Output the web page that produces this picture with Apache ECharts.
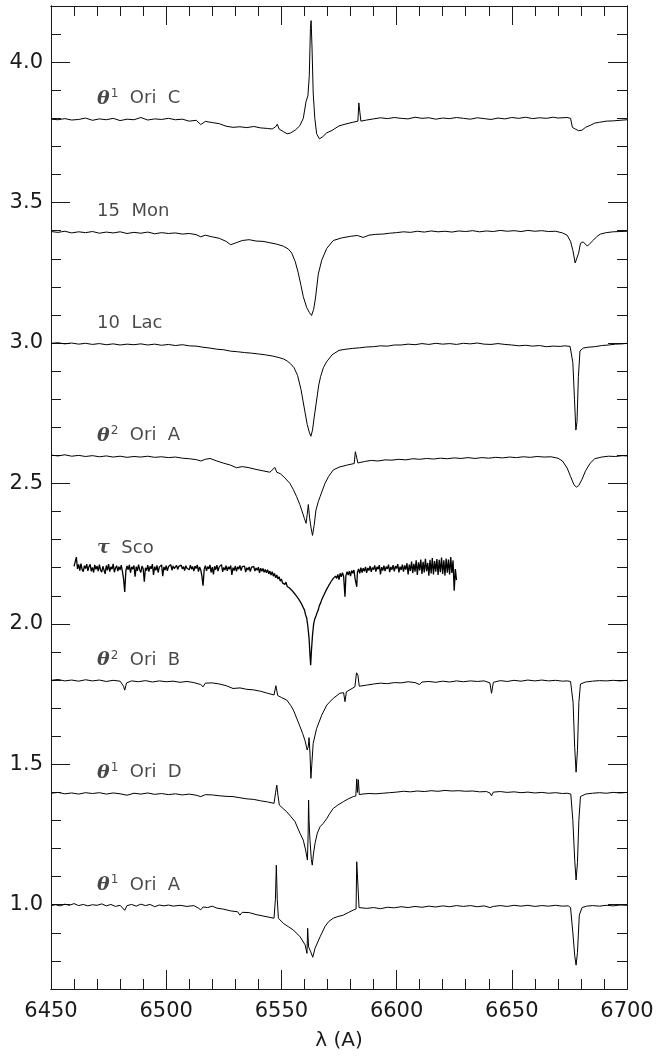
<!DOCTYPE html>
<html>
<head>
<meta charset="utf-8">
<script src="https://cdn.jsdelivr.net/npm/echarts@6/dist/echarts.min.js"></script>
<style>
  html, body { margin: 0; padding: 0; background: #fff; }
  #chart { width: 657px; height: 1057px; }
</style>
</head>
<body>
<div id="chart"></div>
<script>
// spectra, [wavelength (A), normalised flux + offset]
const oriC = [
  [6450, 3.797], [6453, 3.795], [6456, 3.799], [6459, 3.794], [6462, 3.796], [6465, 3.801], [6468, 3.793], [6471, 3.798],
  [6474, 3.795], [6477, 3.800], [6480, 3.792], [6483, 3.797], [6486, 3.795], [6489, 3.803], [6492, 3.794], [6495, 3.798],
  [6498, 3.796], [6501, 3.800], [6504, 3.795], [6507, 3.797], [6510, 3.790], [6513, 3.793], [6515, 3.778], [6517, 3.789],
  [6520, 3.785], [6523, 3.781], [6526, 3.772], [6529, 3.768], [6532, 3.770], [6535, 3.767], [6538, 3.771], [6541, 3.766],
  [6544, 3.764], [6546, 3.762], [6547.5, 3.770], [6548.2, 3.779], [6549, 3.762], [6551, 3.752], [6552.5, 3.745], [6554, 3.748],
  [6556, 3.758], [6558, 3.774], [6559.5, 3.800], [6560.7, 3.860], [6561.5, 3.880], [6562.1, 3.950], [6562.6, 4.120], [6562.9, 4.148],
  [6563.3, 4.050], [6563.8, 3.890], [6564.5, 3.800], [6565.3, 3.745], [6566.5, 3.727], [6568, 3.735], [6569.6, 3.748], [6572, 3.757],
  [6575, 3.773], [6578, 3.780], [6581, 3.786], [6583.2, 3.790], [6583.6, 3.855], [6584.0, 3.860], [6584.5, 3.790], [6587, 3.794],
  [6590, 3.798], [6593, 3.802], [6596, 3.799], [6599, 3.803], [6602, 3.800], [6605, 3.798], [6608, 3.804], [6611, 3.800],
  [6614, 3.802], [6617, 3.797], [6620, 3.801], [6623, 3.799], [6626, 3.803], [6629, 3.800], [6632, 3.797], [6635, 3.802],
  [6638, 3.799], [6641, 3.796], [6644, 3.801], [6647, 3.798], [6650, 3.803], [6653, 3.800], [6656, 3.804], [6659, 3.799],
  [6662, 3.802], [6665, 3.800], [6668, 3.804], [6670, 3.801], [6674, 3.803], [6675.5, 3.800], [6676.3, 3.768], [6677.5, 3.762],
  [6679, 3.756], [6680.5, 3.758], [6682, 3.768], [6684, 3.775], [6686, 3.783], [6688, 3.786], [6691, 3.790], [6694, 3.791],
  [6697, 3.793], [6700, 3.795]
];

const mon15 = [
  [6450, 3.397], [6453, 3.394], [6456, 3.398], [6459, 3.392], [6462, 3.396], [6465, 3.393], [6468, 3.397], [6471, 3.391],
  [6474, 3.395], [6477, 3.392], [6480, 3.396], [6483, 3.390], [6486, 3.394], [6489, 3.391], [6492, 3.395], [6495, 3.389],
  [6498, 3.393], [6501, 3.390], [6504, 3.392], [6507, 3.388], [6510, 3.390], [6513, 3.386], [6515, 3.378], [6517, 3.384],
  [6520, 3.378], [6523, 3.373], [6526, 3.362], [6528, 3.350], [6530, 3.356], [6533, 3.365], [6536, 3.368], [6539, 3.363],
  [6542, 3.362], [6545, 3.357], [6548, 3.352], [6550.8, 3.345], [6553, 3.335], [6554.5, 3.320], [6556, 3.290], [6557.3, 3.250],
  [6558.5, 3.205], [6559.5, 3.165], [6561, 3.126], [6562.2, 3.108], [6563.1, 3.098], [6564, 3.120], [6564.8, 3.160], [6566, 3.245],
  [6567.5, 3.295], [6569.7, 3.337], [6572.5, 3.365], [6576, 3.374], [6580, 3.380], [6583, 3.383], [6585.5, 3.376], [6588, 3.384],
  [6591, 3.387], [6594, 3.388], [6597, 3.391], [6600, 3.393], [6603, 3.396], [6606, 3.394], [6609, 3.398], [6612, 3.395],
  [6615, 3.399], [6618, 3.396], [6621, 3.398], [6624, 3.395], [6627, 3.399], [6630, 3.397], [6633, 3.400], [6636, 3.396],
  [6639, 3.399], [6642, 3.397], [6645, 3.401], [6648, 3.398], [6651, 3.400], [6654, 3.397], [6657, 3.401], [6660, 3.398],
  [6663, 3.400], [6666, 3.397], [6669, 3.398], [6672, 3.392], [6674, 3.384], [6675.5, 3.362], [6676.5, 3.330], [6677.5, 3.285],
  [6678.2, 3.280], [6679, 3.320], [6679.8, 3.355], [6681, 3.360], [6682.8, 3.345], [6684, 3.355], [6685.5, 3.367], [6687, 3.380],
  [6688.5, 3.388], [6691, 3.393], [6694, 3.396], [6697, 3.397], [6700, 3.398]
];

const lac10 = [
  [6450, 2.999], [6453, 3.001], [6456, 2.997], [6459, 3.000], [6462, 2.996], [6465, 2.999], [6468, 2.995], [6471, 2.998],
  [6474, 2.994], [6477, 2.997], [6480, 2.993], [6483, 2.996], [6486, 2.994], [6489, 2.997], [6492, 2.993], [6495, 2.996],
  [6498, 2.992], [6501, 2.995], [6504, 2.991], [6507, 2.994], [6510, 2.990], [6513, 2.989], [6516, 2.985], [6519, 2.982],
  [6522, 2.978], [6525, 2.976], [6528, 2.971], [6531, 2.969], [6534, 2.966], [6537, 2.964], [6540, 2.961], [6543, 2.958],
  [6546, 2.954], [6549, 2.948], [6551, 2.943], [6552.5, 2.936], [6554, 2.926], [6555.5, 2.912], [6557, 2.885], [6558.5, 2.835],
  [6560, 2.765], [6561.2, 2.710], [6562.2, 2.680], [6562.8, 2.668], [6563.5, 2.690], [6564.3, 2.740], [6565.3, 2.797], [6566.2, 2.850],
  [6567, 2.880], [6568.2, 2.912], [6569.6, 2.933], [6572, 2.958], [6575, 2.974], [6578, 2.978], [6581, 2.981], [6584, 2.983],
  [6587, 2.986], [6590, 2.987], [6593, 2.990], [6596, 2.989], [6599, 2.993], [6602, 2.993], [6605, 2.996], [6608, 2.994],
  [6611, 2.998], [6614, 2.995], [6617, 2.999], [6620, 2.996], [6623, 2.998], [6626, 2.995], [6629, 2.999], [6632, 2.997],
  [6635, 3.000], [6638, 2.996], [6641, 2.995], [6644, 2.998], [6647, 2.995], [6650, 2.993], [6653, 2.990], [6656, 2.992],
  [6659, 2.989], [6662, 2.991], [6665, 2.987], [6668, 2.989], [6671, 2.988], [6673, 2.990], [6675.3, 2.988], [6676.5, 2.930],
  [6677.2, 2.800], [6677.8, 2.690], [6678.3, 2.720], [6678.9, 2.880], [6679.6, 2.972], [6681, 2.982], [6683, 2.985], [6686, 2.987],
  [6689, 2.991], [6692, 2.993], [6695, 2.996], [6698, 2.997], [6700, 2.999]
];

const ori2A = [
  [6450, 2.601], [6453, 2.598], [6456, 2.602], [6459, 2.597], [6462, 2.600], [6465, 2.596], [6468, 2.599], [6471, 2.595],
  [6474, 2.598], [6477, 2.594], [6480, 2.597], [6483, 2.593], [6486, 2.596], [6489, 2.594], [6492, 2.597], [6495, 2.593],
  [6498, 2.595], [6501, 2.592], [6504, 2.594], [6507, 2.590], [6510, 2.588], [6513, 2.585], [6515, 2.580], [6517, 2.586],
  [6519, 2.589], [6522, 2.580], [6525, 2.572], [6528, 2.565], [6530.5, 2.556], [6533, 2.560], [6536, 2.556], [6539, 2.550],
  [6542, 2.545], [6545, 2.540], [6547.2, 2.557], [6548, 2.540], [6549.5, 2.535], [6551.5, 2.520], [6553.7, 2.500], [6555.2, 2.478],
  [6556.6, 2.453], [6558, 2.425], [6558.8, 2.405], [6560, 2.375], [6560.7, 2.358], [6561.2, 2.390], [6561.7, 2.425], [6562.2, 2.380],
  [6562.8, 2.345], [6563.5, 2.315], [6564.2, 2.350], [6565, 2.405], [6566, 2.435], [6566.8, 2.453], [6568, 2.480], [6568.9, 2.500],
  [6570.5, 2.525], [6572.5, 2.548], [6575, 2.558], [6578.3, 2.565], [6581.6, 2.571], [6582.1, 2.613], [6582.6, 2.611], [6583.2, 2.573],
  [6586, 2.578], [6589, 2.582], [6592, 2.580], [6595, 2.584], [6598, 2.583], [6601, 2.586], [6604, 2.584], [6607, 2.588],
  [6610, 2.586], [6613, 2.589], [6616, 2.587], [6619, 2.590], [6622, 2.588], [6625, 2.591], [6628, 2.589], [6631, 2.592],
  [6634, 2.589], [6637, 2.592], [6640, 2.590], [6643, 2.593], [6646, 2.591], [6649, 2.594], [6652, 2.592], [6655, 2.595],
  [6658, 2.593], [6661, 2.596], [6664, 2.594], [6667, 2.595], [6670, 2.590], [6672, 2.580], [6674, 2.555], [6675.5, 2.525],
  [6677, 2.495], [6678, 2.487], [6679, 2.492], [6680.5, 2.515], [6682, 2.545], [6684, 2.572], [6686, 2.588], [6689, 2.594],
  [6692, 2.597], [6695, 2.596], [6698, 2.599], [6700, 2.598]
];

const tauSco = [
  [6460, 2.205], [6460.5, 2.221], [6461, 2.238], [6461.5, 2.196], [6462, 2.212], [6462.5, 2.190], [6463, 2.215], [6463.5, 2.194],
  [6464, 2.186], [6464.5, 2.207], [6465, 2.197], [6465.5, 2.213], [6466, 2.189], [6466.5, 2.204], [6467, 2.212], [6467.5, 2.187],
  [6468, 2.201], [6468.5, 2.183], [6469, 2.210], [6469.5, 2.194], [6470, 2.206], [6470.5, 2.188], [6471, 2.211], [6471.5, 2.192],
  [6472, 2.184], [6472.5, 2.205], [6473, 2.198], [6473.5, 2.178], [6474, 2.208], [6474.5, 2.191], [6475, 2.213], [6475.5, 2.186],
  [6476, 2.203], [6476.5, 2.195], [6477, 2.214], [6477.5, 2.184], [6478, 2.199], [6478.5, 2.207], [6479, 2.188], [6479.5, 2.204],
  [6480, 2.192], [6480.5, 2.209], [6481, 2.186], [6481.5, 2.160], [6482, 2.114], [6482.5, 2.190], [6483, 2.206], [6483.5, 2.193],
  [6484, 2.210], [6484.5, 2.182], [6485, 2.203], [6485.5, 2.195], [6486, 2.208], [6486.5, 2.168], [6487, 2.204], [6487.5, 2.189],
  [6488, 2.211], [6488.5, 2.193], [6489, 2.183], [6489.5, 2.206], [6490, 2.197], [6490.5, 2.150], [6491, 2.200], [6491.5, 2.190],
  [6492, 2.209], [6492.5, 2.186], [6493, 2.205], [6493.5, 2.196], [6494, 2.213], [6494.5, 2.174], [6495, 2.204], [6495.5, 2.191],
  [6496, 2.208], [6496.5, 2.183], [6497, 2.202], [6497.5, 2.196], [6498, 2.210], [6498.5, 2.170], [6499, 2.203], [6499.5, 2.192],
  [6500, 2.207], [6500.5, 2.189], [6501, 2.204], [6501.5, 2.198], [6502, 2.211], [6502.5, 2.191], [6503, 2.206], [6503.5, 2.197],
  [6504, 2.203], [6504.5, 2.208], [6505, 2.194], [6505.5, 2.205], [6506, 2.199], [6506.5, 2.209], [6507, 2.196], [6507.5, 2.204],
  [6508, 2.190], [6508.5, 2.207], [6509, 2.198], [6509.5, 2.203], [6510, 2.193], [6510.5, 2.209], [6511, 2.195], [6511.5, 2.204],
  [6512, 2.188], [6512.5, 2.206], [6513, 2.197], [6513.5, 2.210], [6514, 2.186], [6514.5, 2.203], [6515, 2.192], [6515.5, 2.170],
  [6516, 2.136], [6516.5, 2.195], [6517, 2.207], [6517.5, 2.189], [6518, 2.204], [6518.5, 2.196], [6519, 2.210], [6519.5, 2.183],
  [6520, 2.202], [6520.5, 2.176], [6521, 2.205], [6521.5, 2.193], [6522, 2.209], [6522.5, 2.188], [6523, 2.203], [6523.5, 2.196],
  [6524, 2.211], [6524.5, 2.185], [6525, 2.201], [6525.5, 2.192], [6526, 2.207], [6526.5, 2.189], [6527, 2.203], [6527.5, 2.195],
  [6528, 2.208], [6528.5, 2.174], [6529, 2.200], [6529.5, 2.190], [6530, 2.206], [6530.5, 2.187], [6531, 2.203], [6531.5, 2.195],
  [6532, 2.208], [6532.5, 2.190], [6533, 2.204], [6533.5, 2.197], [6534, 2.206], [6534.5, 2.184], [6535, 2.200], [6535.5, 2.192],
  [6536, 2.203], [6536.5, 2.186], [6537, 2.201], [6537.5, 2.194], [6538, 2.205], [6538.5, 2.188], [6539, 2.199], [6539.5, 2.191],
  [6540, 2.202], [6540.5, 2.182], [6541, 2.198], [6541.5, 2.187], [6542, 2.197], [6542.5, 2.184], [6543, 2.194], [6543.5, 2.182],
  [6544, 2.193], [6544.5, 2.178], [6545, 2.188], [6545.5, 2.174], [6546, 2.186], [6546.5, 2.170], [6547, 2.180], [6547.5, 2.164],
  [6548, 2.174], [6548.5, 2.160], [6549, 2.168], [6549.5, 2.152], [6550, 2.160], [6550.5, 2.146], [6551, 2.153], [6551.5, 2.140],
  [6552, 2.149], [6552.5, 2.133], [6553, 2.140], [6553.5, 2.128], [6554, 2.134], [6554.5, 2.120], [6555, 2.124], [6555.5, 2.110],
  [6556, 2.114], [6556.5, 2.100], [6557, 2.102], [6557.5, 2.088], [6558, 2.090], [6558.5, 2.075], [6559, 2.072], [6559.5, 2.058],
  [6560, 2.050], [6560.5, 2.032], [6561, 2.020], [6561.5, 1.990], [6562, 1.950], [6562.4, 1.890], [6562.7, 1.853], [6563, 1.900],
  [6563.5, 1.960], [6564, 2.000], [6564.5, 2.018], [6565, 2.028], [6565.5, 2.040], [6566, 2.050], [6566.5, 2.066], [6567, 2.074],
  [6567.5, 2.086], [6568, 2.091], [6568.5, 2.104], [6569, 2.108], [6569.5, 2.121], [6570, 2.120], [6570.5, 2.136], [6571, 2.138],
  [6571.5, 2.150], [6572, 2.146], [6572.5, 2.162], [6573, 2.156], [6573.5, 2.170], [6574, 2.162], [6574.5, 2.176], [6575, 2.158],
  [6575.5, 2.180], [6576, 2.168], [6576.5, 2.182], [6577, 2.170], [6577.6, 2.097], [6578, 2.172], [6578.5, 2.186], [6579, 2.174],
  [6579.5, 2.188], [6580, 2.170], [6580.5, 2.190], [6581, 2.180], [6581.5, 2.192], [6582, 2.160], [6582.7, 2.132], [6583, 2.184],
  [6583.5, 2.196], [6584, 2.180], [6584.5, 2.200], [6585, 2.183], [6585.5, 2.198], [6586, 2.187], [6586.5, 2.203], [6587, 2.182],
  [6587.5, 2.199], [6588, 2.190], [6588.5, 2.206], [6589, 2.185], [6589.5, 2.201], [6590, 2.193], [6590.5, 2.208], [6591, 2.186],
  [6591.5, 2.203], [6592, 2.195], [6592.5, 2.209], [6593, 2.176], [6593.5, 2.202], [6594, 2.190], [6594.5, 2.207], [6595, 2.188],
  [6595.5, 2.204], [6596, 2.196], [6596.5, 2.211], [6597, 2.184], [6597.5, 2.203], [6598, 2.193], [6598.5, 2.209], [6599, 2.187],
  [6599.5, 2.206], [6600, 2.197], [6600.5, 2.213], [6601, 2.183], [6601.5, 2.204], [6602, 2.192], [6602.5, 2.211], [6603, 2.186],
  [6603.5, 2.208], [6604, 2.193], [6604.5, 2.216], [6605, 2.176], [6605.5, 2.211], [6606, 2.189], [6606.5, 2.222], [6607, 2.181],
  [6607.5, 2.214], [6608, 2.186], [6608.5, 2.226], [6609, 2.174], [6609.5, 2.219], [6610, 2.190], [6610.5, 2.229], [6611, 2.178],
  [6611.5, 2.221], [6612, 2.183], [6612.5, 2.232], [6613, 2.188], [6613.5, 2.217], [6614, 2.172], [6614.5, 2.228], [6615, 2.180],
  [6615.5, 2.234], [6616, 2.176], [6616.5, 2.224], [6617, 2.186], [6617.5, 2.231], [6618, 2.174], [6618.5, 2.228], [6619, 2.184],
  [6619.5, 2.236], [6620, 2.178], [6620.5, 2.226], [6621, 2.172], [6621.5, 2.233], [6622, 2.182], [6622.5, 2.229], [6623, 2.176],
  [6623.5, 2.238], [6624, 2.181], [6624.5, 2.226], [6625, 2.118], [6625.5, 2.195], [6626, 2.156]
];

const ori2B = [
  [6450, 1.799], [6453, 1.802], [6456, 1.797], [6459, 1.800], [6462, 1.796], [6465, 1.801], [6468, 1.797], [6471, 1.800],
  [6474, 1.795], [6477, 1.799], [6480, 1.796], [6481.5, 1.778], [6482, 1.764], [6482.8, 1.790], [6485, 1.797], [6488, 1.794],
  [6491, 1.798], [6494, 1.793], [6497, 1.797], [6500, 1.794], [6503, 1.796], [6506, 1.792], [6509, 1.795], [6512, 1.791],
  [6515, 1.784], [6516, 1.776], [6517, 1.789], [6520, 1.790], [6523, 1.786], [6526, 1.780], [6529, 1.770], [6532, 1.772],
  [6535, 1.767], [6538, 1.765], [6541, 1.760], [6544, 1.753], [6546.8, 1.747], [6547.6, 1.780], [6548.4, 1.745], [6550, 1.738],
  [6552.3, 1.729], [6554, 1.710], [6555.2, 1.693], [6556.6, 1.665], [6558.1, 1.634], [6559.2, 1.610], [6560.2, 1.586], [6561.2, 1.551],
  [6561.7, 1.565], [6562, 1.595], [6562.4, 1.540], [6562.8, 1.450], [6563.2, 1.500], [6563.8, 1.575], [6565.3, 1.628], [6567.5, 1.675],
  [6569.7, 1.711], [6572.5, 1.735], [6575.4, 1.753], [6577, 1.755], [6577.6, 1.723], [6578.2, 1.758], [6579, 1.764], [6581.9, 1.776],
  [6582.6, 1.826], [6583.2, 1.818], [6583.8, 1.778], [6587, 1.782], [6590, 1.786], [6593, 1.789], [6596, 1.787], [6599, 1.791],
  [6602, 1.790], [6605, 1.794], [6608, 1.791], [6610, 1.784], [6611, 1.793], [6614, 1.795], [6617, 1.792], [6620, 1.796],
  [6623, 1.793], [6626, 1.797], [6629, 1.794], [6632, 1.797], [6635, 1.795], [6638, 1.797], [6640.5, 1.790], [6641.2, 1.753],
  [6642, 1.792], [6645, 1.798], [6648, 1.795], [6651, 1.799], [6654, 1.796], [6657, 1.800], [6660, 1.797], [6663, 1.800],
  [6666, 1.797], [6669, 1.799], [6672, 1.796], [6674, 1.797], [6675.5, 1.795], [6676.6, 1.720], [6677.3, 1.560], [6677.9, 1.472],
  [6678.5, 1.550], [6679.1, 1.720], [6679.8, 1.786], [6682, 1.793], [6685, 1.796], [6688, 1.798], [6691, 1.797], [6694, 1.799],
  [6697, 1.797], [6700, 1.799]
];

const ori1D = [
  [6450, 1.397], [6453, 1.400], [6456, 1.395], [6459, 1.398], [6462, 1.394], [6465, 1.399], [6468, 1.396], [6471, 1.399],
  [6474, 1.394], [6477, 1.398], [6480, 1.395], [6483, 1.390], [6486, 1.397], [6489, 1.394], [6492, 1.398], [6495, 1.393],
  [6498, 1.396], [6501, 1.392], [6504, 1.395], [6507, 1.391], [6510, 1.394], [6513, 1.390], [6515, 1.385], [6517, 1.392],
  [6520, 1.391], [6523, 1.388], [6526, 1.386], [6529, 1.385], [6532, 1.381], [6535, 1.377], [6538, 1.375], [6541, 1.370],
  [6544, 1.366], [6546.8, 1.361], [6547.5, 1.400], [6548, 1.426], [6548.5, 1.390], [6549.1, 1.355], [6550.8, 1.342], [6552.3, 1.331],
  [6554, 1.315], [6555.9, 1.296], [6558.1, 1.254], [6559.5, 1.230], [6560.5, 1.195], [6561.3, 1.159], [6561.6, 1.250], [6561.8, 1.373],
  [6562.0, 1.300], [6562.4, 1.230], [6563, 1.160], [6563.4, 1.141], [6563.9, 1.180], [6564.6, 1.219], [6565.6, 1.255], [6566.8, 1.278],
  [6568.2, 1.290], [6569.7, 1.307], [6571, 1.325], [6572.5, 1.343], [6574.5, 1.355], [6576.9, 1.367], [6579, 1.377], [6581.2, 1.385],
  [6582.3, 1.387], [6582.7, 1.448], [6583.0, 1.400], [6583.4, 1.445], [6583.8, 1.392], [6585, 1.394], [6588, 1.396], [6591, 1.395],
  [6594, 1.397], [6597, 1.399], [6600, 1.401], [6603, 1.404], [6606, 1.402], [6609, 1.405], [6612, 1.403], [6615, 1.406],
  [6618, 1.404], [6621, 1.407], [6624, 1.405], [6627, 1.406], [6630, 1.404], [6633, 1.405], [6636, 1.402], [6639, 1.403],
  [6640.5, 1.398], [6641.2, 1.388], [6642, 1.401], [6645, 1.403], [6648, 1.400], [6651, 1.402], [6654, 1.399], [6657, 1.401],
  [6660, 1.398], [6663, 1.400], [6666, 1.397], [6669, 1.399], [6672, 1.396], [6674, 1.397], [6675.6, 1.394], [6676.5, 1.300],
  [6677.3, 1.160], [6677.9, 1.088], [6678.5, 1.150], [6679.1, 1.300], [6679.8, 1.385], [6682, 1.394], [6685, 1.397], [6688, 1.399],
  [6691, 1.397], [6694, 1.400], [6697, 1.398], [6700, 1.400]
];

const ori1A = [
  [6450, 0.997], [6452, 1.000], [6454, 0.996], [6456, 1.002], [6458, 0.998], [6460, 1.004], [6462, 0.997], [6464, 1.001],
  [6466, 0.996], [6468, 1.000], [6470, 0.998], [6472, 1.003], [6474, 0.996], [6476, 1.001], [6478, 0.994], [6480, 0.998],
  [6482, 0.980], [6483, 0.997], [6485, 1.001], [6487, 0.995], [6489, 1.002], [6491, 0.997], [6493, 1.001], [6495, 0.993],
  [6497, 0.999], [6499, 0.996], [6501, 0.999], [6503, 0.995], [6506, 0.998], [6509, 0.994], [6512, 0.997], [6514, 0.988],
  [6515, 0.982], [6516, 0.992], [6518, 0.990], [6520, 0.995], [6522, 0.988], [6525, 0.984], [6528, 0.978], [6531, 0.975],
  [6532, 0.963], [6533, 0.973], [6536, 0.972], [6539, 0.965], [6542, 0.960], [6545, 0.955], [6546.8, 0.952], [6547.4, 1.020],
  [6547.8, 1.141], [6548.2, 1.020], [6548.7, 0.952], [6550.8, 0.934], [6553, 0.922], [6555.2, 0.910], [6558.1, 0.886], [6560.3, 0.857],
  [6561.1, 0.827], [6561.4, 0.916], [6561.8, 0.850], [6562.6, 0.835], [6563.6, 0.813], [6564.6, 0.845], [6566.8, 0.886], [6568.9, 0.922],
  [6570.5, 0.940], [6572.5, 0.952], [6574.5, 0.958], [6576.9, 0.963], [6579, 0.972], [6581.2, 0.981], [6582.4, 0.985], [6582.7, 1.153],
  [6583.3, 1.155], [6583.7, 0.990], [6584.5, 0.984], [6587, 0.987], [6590, 0.990], [6593, 0.986], [6596, 0.991], [6599, 0.989],
  [6602, 0.993], [6605, 0.990], [6608, 0.994], [6611, 0.991], [6614, 0.995], [6617, 0.992], [6620, 0.996], [6623, 0.993],
  [6626, 0.997], [6629, 0.994], [6632, 0.997], [6635, 0.993], [6638, 0.996], [6640.5, 0.990], [6641.2, 0.983], [6642, 0.994],
  [6645, 0.997], [6648, 0.994], [6651, 0.998], [6654, 0.995], [6657, 0.998], [6660, 0.994], [6663, 0.997], [6666, 0.995],
  [6669, 0.998], [6672, 0.995], [6674.5, 0.996], [6675.5, 0.990], [6676.5, 0.900], [6677.3, 0.820], [6677.9, 0.785], [6678.5, 0.830],
  [6679.3, 0.963], [6680.5, 0.990], [6682.5, 0.995], [6685, 0.997], [6688, 0.995], [6691, 0.998], [6694, 0.996], [6697, 0.999],
  [6700, 0.998]
];

// star names and where their labels sit (data units)
const starNames = ['{g|θ}{s|1}  Ori  C', '15  Mon', '10  Lac', '{g|θ}{s|2}  Ori  A', '{g|τ}  Sco', '{g|θ}{s|2}  Ori  B', '{g|θ}{s|1}  Ori  D', '{g|θ}{s|1}  Ori  A'];
const labelX = [6470, 6470, 6470, 6470, 6470, 6470, 6470, 6470];
const labelY = [3.87, 3.47, 3.07, 2.67, 2.27, 1.87, 1.47, 1.07];
const spectra = [oriC, mon15, lac10, ori2A, tauSco, ori2B, ori1D, ori1A];

// tick values
const xMajor = [6450, 6500, 6550, 6600, 6650, 6700];
const xMinor = [6460, 6470, 6480, 6490, 6510, 6520, 6530, 6540, 6560, 6570, 6580, 6590,
  6610, 6620, 6630, 6640, 6660, 6670, 6680, 6690];
const yMajor = [1.0, 1.5, 2.0, 2.5, 3.0, 3.5, 4.0];
const yMinor = [0.8, 0.9, 1.1, 1.2, 1.3, 1.4, 1.6, 1.7, 1.8, 1.9, 2.1, 2.2, 2.3, 2.4, 2.6, 2.7, 2.8, 2.9,
  3.1, 3.2, 3.3, 3.4, 3.6, 3.7, 3.8, 3.9, 4.1];

const font = 'DejaVu Sans';
const ink = '#1a1a1a';

const chart = echarts.init(document.getElementById('chart'));

// one axis per side carries the long ticks (and labels), a twin carries the short ones
function axisDef(kind, pos, major, showLabel) {
  const isX = kind === 'x';
  const ticks = isX ? (major ? xMajor : xMinor) : (major ? yMajor : yMinor);
  return {
    type: 'value', position: pos,
    min: isX ? 6450 : 0.7, max: isX ? 6700 : 4.2,
    name: showLabel && isX ? 'λ (A)' : '', nameLocation: 'middle', nameGap: 42,
    nameTextStyle: { fontFamily: font, fontSize: 20, color: ink },
    axisLine: { show: true, onZero: false, lineStyle: { color: ink, width: 1 } },
    axisTick: { show: true, inside: true, length: major ? 19 : 10, customValues: ticks, lineStyle: { color: ink, width: 1 } },
    axisLabel: {
      show: showLabel, customValues: ticks, margin: isX ? 12 : 8, fontFamily: font, fontSize: 21, color: ink,
      formatter: v => isX ? String(v) : v.toFixed(1)
    },
    splitLine: { show: false }
  };
}

const series = spectra.map((d, i) => ({
  type: 'line',
  data: d,
  xAxisIndex: 0,
  yAxisIndex: 0,
  showSymbol: false,
  symbol: 'none',
  lineStyle: { color: '#000', width: i === 4 ? 1.3 : 1 },
  z: 3
}));

series.push({
  type: 'scatter',
  xAxisIndex: 0,
  yAxisIndex: 0,
  symbolSize: 0,
  data: labelX.map((x, i) => [x, labelY[i]]),
  label: {
    show: true,
    position: 'right',
    distance: 0,
    formatter: p => starNames[p.dataIndex],
    fontFamily: font,
    fontSize: 18,
    color: ink,
    rich: {
      g: { fontFamily: 'DejaVu Serif', fontStyle: 'italic', fontWeight: 'bold', fontSize: 19, color: ink },
      s: { fontFamily: font, fontSize: 12, color: ink, verticalAlign: 'bottom', padding: [0, 0, 10, 1] }
    }
  }
});

chart.setOption({
  animation: false,
  backgroundColor: '#fff',
  grid: { left: 51, right: 30, top: 6, bottom: 68 },
  xAxis: [
    axisDef('x', 'bottom', true, true),
    axisDef('x', 'bottom', false, false),
    axisDef('x', 'top', true, false),
    axisDef('x', 'top', false, false)
  ],
  yAxis: [
    axisDef('y', 'left', true, true),
    axisDef('y', 'left', false, false),
    axisDef('y', 'right', true, false),
    axisDef('y', 'right', false, false)
  ],
  series: series
});
</script>
</body>
</html>
